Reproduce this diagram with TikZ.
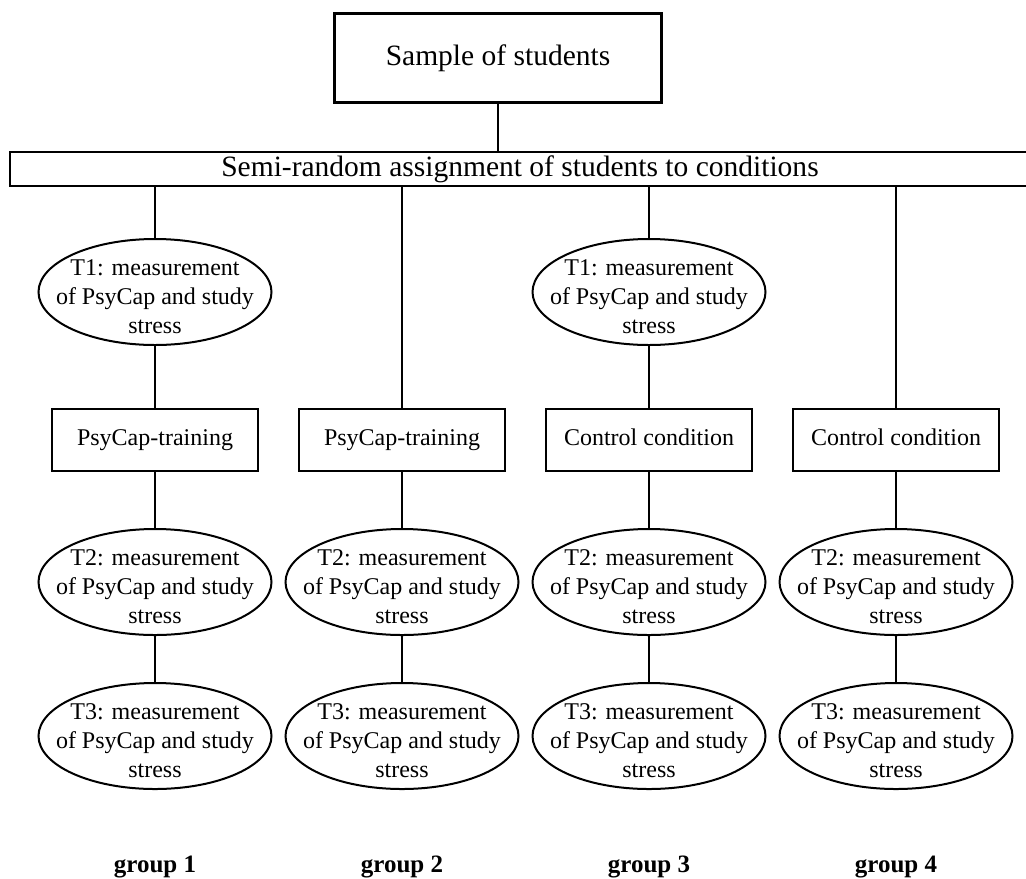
\documentclass[tikz,border=0pt]{standalone}
\usepackage{fontspec}
\setmainfont{Liberation Serif}
\usetikzlibrary{shapes.geometric,positioning}

\tikzset{
  head/.style={draw,rectangle,line width=1.2pt,inner sep=0pt,font=\fontsize{14.75}{17}\selectfont},
  treat/.style={draw,rectangle,line width=1pt,minimum width=103pt,minimum height=31pt,inner sep=0pt,
    text height=8.5pt,text depth=2.8pt,font=\fontsize{12}{14.5}\selectfont},
  mtext/.style={inner sep=0pt,align=center,yshift=-2.5pt,font=\fontsize{12}{14.5}\selectfont},
  meas/.style={draw,ellipse,line width=1pt,minimum width=116.5pt,minimum height=53pt,inner sep=0pt,
    label={[mtext]center:#1}},
  grp/.style={inner sep=0pt,font=\fontsize{12.5}{15}\selectfont\bfseries},
  link/.style={line width=0.6pt}
}

\begin{document}
\begin{tikzpicture}[x=0.5pt,y=-0.5pt]
  \useasboundingbox (0,0) rectangle (1026,878);
  \clip (0,0) rectangle (1026,878);

  \node[head,minimum width=163.5pt,minimum height=44.5pt] (sample) at (498,58) {Sample of students};
  \node[head,minimum width=510pt,minimum height=17pt] (assign) at (520,169) {Semi-random assignment of students to conditions};

  % conditions
  \node[treat] (tra) at (155,440) {PsyCap-training};
  \node[treat] (trb) [right=19.5pt of tra] {PsyCap-training};
  \node[treat] (trc) [right=19.5pt of trb] {Control condition};
  \node[treat] (trd) [right=19.5pt of trc] {Control condition};

  % T1 only for groups 1 and 3
  \node[meas={T1: measurement\\of PsyCap and study\\stress}] (t1a) [above=31pt of tra] {};
  \node[meas={T1: measurement\\of PsyCap and study\\stress}] (t1c) [above=31pt of trc] {};

  \node[meas={T2: measurement\\of PsyCap and study\\stress}] (t2a) [below=28pt of tra] {};
  \node[meas={T2: measurement\\of PsyCap and study\\stress}] (t2b) [below=28pt of trb] {};
  \node[meas={T2: measurement\\of PsyCap and study\\stress}] (t2c) [below=28pt of trc] {};
  \node[meas={T2: measurement\\of PsyCap and study\\stress}] (t2d) [below=28pt of trd] {};

  \node[meas={T3: measurement\\of PsyCap and study\\stress}] (t3a) [below=23pt of t2a] {};
  \node[meas={T3: measurement\\of PsyCap and study\\stress}] (t3b) [below=23pt of t2b] {};
  \node[meas={T3: measurement\\of PsyCap and study\\stress}] (t3c) [below=23pt of t2c] {};
  \node[meas={T3: measurement\\of PsyCap and study\\stress}] (t3d) [below=23pt of t2d] {};

  \node[grp] (ga) [below=33pt of t3a] {group 1};
  \node[grp] (gb) [below=33pt of t3b] {group 2};
  \node[grp] (gc) [below=33pt of t3c] {group 3};
  \node[grp] (gd) [below=33pt of t3d] {group 4};

  \draw[link] (sample.south) -- (sample.south |- assign.north);
  \draw[link] (t1a.north |- assign.south) -- (t1a.north);
  \draw[link] (trb.north |- assign.south) -- (trb.north);
  \draw[link] (t1c.north |- assign.south) -- (t1c.north);
  \draw[link] (trd.north |- assign.south) -- (trd.north);

  \path[link]
  (t1a) edge (tra)
  (t1c) edge (trc)

  (tra) edge (t2a)
  (trb) edge (t2b)
  (trc) edge (t2c)
  (trd) edge (t2d)

  (t2a) edge (t3a)
  (t2b) edge (t3b)
  (t2c) edge (t3c)
  (t2d) edge (t3d)
  ;
\end{tikzpicture}
\end{document}
